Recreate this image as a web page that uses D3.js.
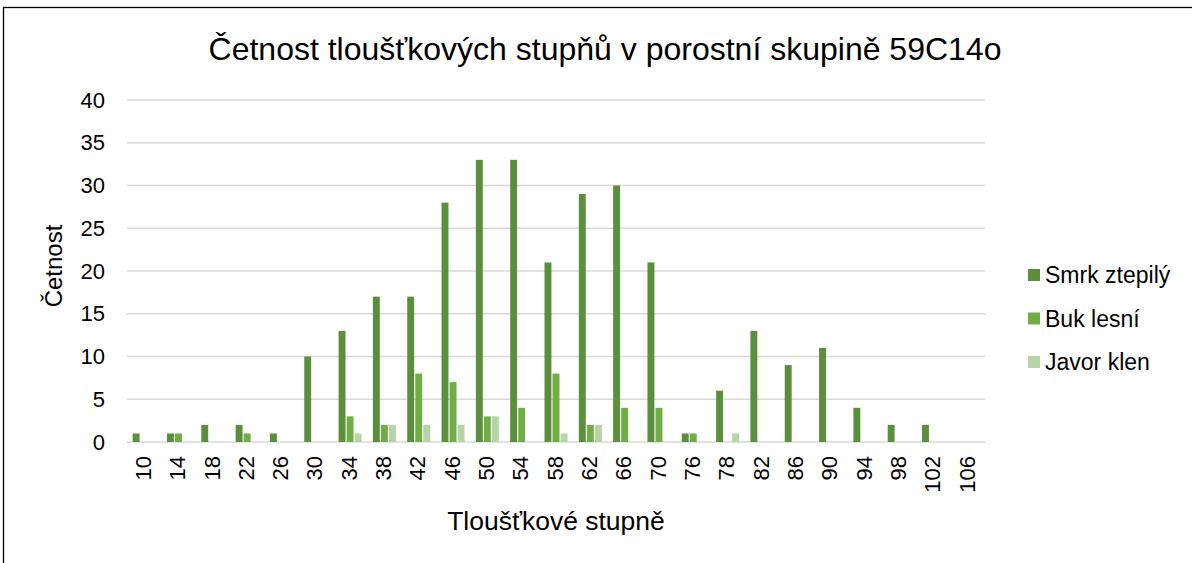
<!DOCTYPE html>
<html>
<head>
    <meta charset="utf-8">
    <style>
        body { margin: 0; background: #fff; }
        svg text { font-family: "Liberation Sans", Arial, sans-serif; fill: #000; }
    </style>
    <script src="https://d3js.org/d3.v7.min.js"></script>
</head>
<body>
    <svg width="1192" height="563"></svg>
    <script>
        // data
        var categories = ["10","14","18","22","26","30","34","38","42","46","50","54","58","62","66","70","76","78","82","86","90","94","98","102","106"];
        var seriesNames = ["Smrk ztepilý", "Buk lesní", "Javor klen"];
        var smrk  = [1,1,2,2,1,10,13,17,17,28,33,33,21,29,30,21,1,6,13,9,11,4,2,2,0];
        var buk   = [0,1,0,1,0,0,3,2,8,7,3,4,8,2,4,4,1,0,0,0,0,0,0,0,0];
        var javor = [0,0,0,0,0,0,1,2,2,2,3,0,1,2,0,0,0,1,0,0,0,0,0,0,0];
        var yTicks = [0,5,10,15,20,25,30,35,40];
        var colors = ["#5b8f3b", "#70ad47", "#b6d4a5"];

        var values = [smrk, buk, javor];

        var svg = d3.select("svg");

        // outer frame
        svg.append("rect")
           .attr("x", 3.5).attr("y", 7.5)
           .attr("width", 1200).attr("height", 600)
           .attr("fill", "none").attr("stroke", "#000").attr("stroke-width", 1.3);

        var plotLeft = 127, plotRight = 985, plotTop = 100, plotBottom = 442;

        var x0 = d3.scaleBand().domain(categories).range([plotLeft, plotRight])
                   .paddingInner(0.33).paddingOuter(0.165);
        var x1 = d3.scaleBand().domain(d3.range(seriesNames.length))
                   .range([0, x0.bandwidth()]).paddingInner(0.14);
        var y = d3.scaleLinear().domain([0, 40]).range([plotBottom, plotTop]);

        // gridlines
        svg.append("g").selectAll("line")
           .data(yTicks).enter().append("line")
           .attr("x1", plotLeft).attr("x2", plotRight)
           .attr("y1", function(d) { return y(d); })
           .attr("y2", function(d) { return y(d); })
           .attr("stroke", "#d9d9d9").attr("stroke-width", 1.3);

        // y axis labels
        var yAxis = d3.axisLeft(y).tickValues(yTicks).tickSize(0).tickPadding(0);
        var ya = svg.append("g").attr("transform", "translate(105,0)").call(yAxis);
        ya.select(".domain").remove();
        ya.selectAll("text")
          .style("font-size", "22px")
          .style("font-family", "Liberation Sans, Arial, sans-serif");

        // bars
        seriesNames.forEach(function(name, s) {
            svg.append("g").selectAll("rect")
               .data(values[s]).enter().append("rect")
               .attr("x", function(d, i) { return x0(categories[i]) + x1(s); })
               .attr("width", x1.bandwidth())
               .attr("y", function(d) { return y(d); })
               .attr("height", function(d) { return plotBottom - y(d); })
               .attr("fill", colors[s]);
        });

        // x axis labels (rotated)
        var xAxis = d3.axisBottom(x0).tickSize(0).tickPadding(0);
        var xa = svg.append("g").attr("transform", "translate(0," + (plotBottom + 14) + ")").call(xAxis);
        xa.select(".domain").remove();
        xa.selectAll("text")
          .style("font-size", "22px")
          .style("font-family", "Liberation Sans, Arial, sans-serif")
          .attr("text-anchor", "end")
          .attr("dy", "0.35em")
          .attr("transform", "rotate(-90)")
          .attr("x", 0).attr("y", 0);
        xa.selectAll(".tick").attr("transform", function(d) {
            return "translate(" + (x0(d) + x0.bandwidth() / 2 - 1) + ",0)";
        });

        // title
        svg.append("text")
           .attr("x", 605).attr("y", 60)
           .attr("text-anchor", "middle")
           .style("font-size", "32px")
           .text("Četnost tloušťkových stupňů v porostní skupině 59C14o");

        // axis titles
        svg.append("text")
           .attr("transform", "translate(62,266) rotate(-90)")
           .attr("text-anchor", "middle")
           .style("font-size", "24px")
           .text("Četnost");

        svg.append("text")
           .attr("x", 556).attr("y", 530)
           .attr("text-anchor", "middle")
           .style("font-size", "26.5px")
           .text("Tloušťkové stupně");

        // legend
        var legend = svg.append("g").selectAll("g")
           .data(seriesNames).enter().append("g")
           .attr("transform", function(d, i) { return "translate(1028," + (275 + i * 43.5) + ")"; });
        legend.append("rect")
           .attr("x", 0).attr("y", -6).attr("width", 12).attr("height", 12)
           .attr("fill", function(d, i) { return colors[i]; });
        legend.append("text")
           .attr("x", 17).attr("y", 0).attr("dy", "0.35em")
           .style("font-size", "23px")
           .text(function(d) { return d; });
    </script>
</body>
</html>
